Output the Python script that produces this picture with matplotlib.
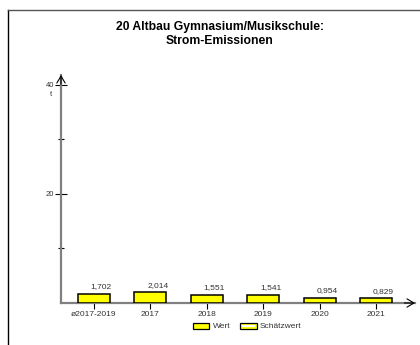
import matplotlib
matplotlib.use("Agg")
import matplotlib.pyplot as plt
from matplotlib.patches import Rectangle
from matplotlib.lines import Line2D

plt.rcParams['font.family'] = ['Liberation Sans', 'DejaVu Sans']

# data
categories = ["ø2017-2019", "2017", "2018", "2019", "2020", "2021"]
values = [1.702, 2.014, 1.551, 1.541, 0.954, 0.829]
title = "20 Altbau Gymnasium/Musikschule:\nStrom-Emissionen"
W, H = 420, 345

fig = plt.figure(figsize=(W / 100, H / 100), dpi=100)

# pixel positions of the plot area
x0, x1 = 61, 415
y0, y1 = 303, 75
ax = fig.add_axes([x0 / W, 1 - y0 / H, (x1 - x0) / W, (y0 - y1) / H])
ax.patch.set_alpha(0)

step = 56.4
ax.set_xlim((x0 - 94) / step, (x1 - 94) / step)
ax.set_ylim(0, 41.8)

pos = list(range(len(categories)))
ax.bar(pos, values, width=0.57, color='#ffff00', edgecolor='black', linewidth=1.1, zorder=3)
for p, v in zip(pos, values):
    ax.text(p + 0.13, v + 0.6, f"{v:.3f}".replace('.', ','), ha='center', va='bottom',
            fontsize=6, color='#333333')

ax.set_xticks(pos)
ax.set_xticklabels(categories, fontsize=6, color='#333333')
ax.set_yticks([20, 40])
ax.set_yticklabels(["20", "40"], fontsize=5.5, color='#333333')
ax.set_yticks([10, 30], minor=True)
ax.tick_params(axis='y', which='major', direction='inout', length=8, width=0.8, pad=1)
ax.tick_params(axis='y', which='minor', direction='inout', length=5, width=0.8)
ax.tick_params(axis='x', direction='out', length=4, width=0.8, pad=2)
ax.text(-0.025, 40 - 1.2, "t", transform=ax.get_yaxis_transform(), ha='right', va='top',
        fontsize=5.5, color='#333333')

for s in ['top', 'right']:
    ax.spines[s].set_visible(False)
for s in ['left', 'bottom']:
    ax.spines[s].set_color('#808080')
    ax.spines[s].set_linewidth(1.6)

# open arrow heads
arrow = dict(arrowstyle='->,head_length=0.5,head_width=0.3', color='black', lw=0.8,
             mutation_scale=10, shrinkA=0, shrinkB=0)
ax.annotate('', xy=(0, 1.0), xytext=(0, 0.96), xycoords='axes fraction', arrowprops=arrow)
ax.annotate('', xy=(1.0, 0), xytext=(0.97, 0), xycoords='axes fraction', arrowprops=arrow)

# overlay in pixel coordinates for frame, title and legend
ov = fig.add_axes([0, 0, 1, 1])
ov.set_xlim(0, W)
ov.set_ylim(H, 0)
ov.axis('off')
ov.patch.set_alpha(0)
ov.add_line(Line2D([8, 8], [10, H], color='black', lw=1.0))
ov.add_line(Line2D([8, W], [10, 10], color='#555555', lw=1.0))
ov.text(220, 34, title, ha='center', va='center', fontsize=8.7, fontweight='bold',
        linespacing=1.3)

ov.add_patch(Rectangle((193, 323), 16, 6, facecolor='#ffff00', edgecolor='black', lw=0.9))
ov.text(213, 326.5, "Wert", fontsize=6, va='center', color='#333333')
ov.add_patch(Rectangle((240, 323), 17, 6, facecolor='#ffff00', edgecolor='black', lw=0.9))
ov.add_patch(Rectangle((242, 325), 13, 2, facecolor='white', edgecolor='none'))
ov.text(260, 326.5, "Schätzwert", fontsize=6, va='center', color='#333333')

fig.savefig("out.png", dpi=100)
